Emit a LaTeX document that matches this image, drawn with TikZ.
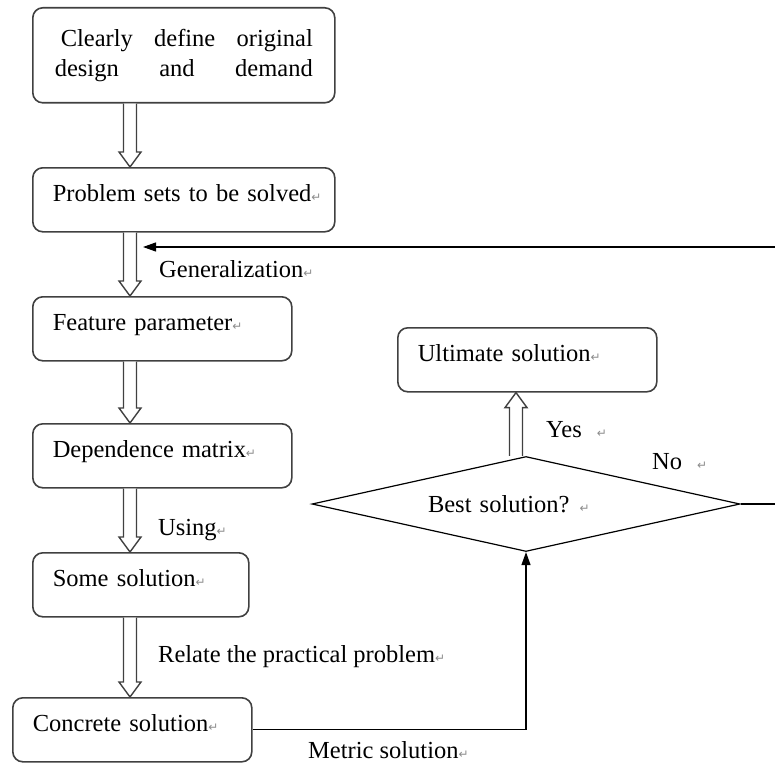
\documentclass[tikz,border=0pt]{standalone}
\usepackage{fontspec}
\setmainfont{Liberation Serif}
\newfontfamily\symfont{DejaVu Sans}
\usepackage{tikz}
\usetikzlibrary{arrows.meta, positioning, shapes.geometric, calc}
\usepackage{xcolor}

% paragraph mark as printed in the figure
\newcommand{\retmark}{{\symfont\fontsize{12}{12}\selectfont\color{black!45}↵}}
% hollow block arrows between two points (start, tip)
\newcommand{\hollowdown}[2]{%
  \path[hollow] let \p1=(#1), \p2=(#2) in
    (\x1-6.5pt,\y1) -- (\x1-6.5pt,\y2+15pt) -- (\x1-11pt,\y2+15pt) -- (\x1,\y2)
    -- (\x1+11pt,\y2+15pt) -- (\x1+6.5pt,\y2+15pt) -- (\x1+6.5pt,\y1);}
\newcommand{\hollowup}[2]{%
  \path[hollow] let \p1=(#1), \p2=(#2) in
    (\x1-6.5pt,\y1) -- (\x1-6.5pt,\y2-15pt) -- (\x1-11pt,\y2-15pt) -- (\x1,\y2)
    -- (\x1+11pt,\y2-15pt) -- (\x1+6.5pt,\y2-15pt) -- (\x1+6.5pt,\y1);}

\begin{document}
\begin{tikzpicture}[x=1pt, y=-1pt, font=\fontsize{24.5}{30}\selectfont]
    % Define styles
    \tikzstyle{procbox}=[draw=black!75, line width=1.6pt, rounded corners=10pt, anchor=north west, align=left, inner xsep=20pt, inner ysep=0pt, text height=34pt, text depth=30pt]
    \tikzstyle{hollow}=[draw=black!75, line width=1.4pt, fill=white]
    \tikzstyle{flow}=[draw=black, line width=1.2pt, -{Triangle[length=13pt, width=9pt]}]
    \tikzstyle{note}=[anchor=base west, inner sep=0pt]

    \useasboundingbox (0,0) rectangle (775,762);
    \clip (0,0) rectangle (775,762);

    % Left column of steps
    \node[procbox, text height=, text depth=, inner xsep=22pt, minimum height=95pt, text width=258pt, align=justify] (define) at (32,7) {\hspace*{6pt}Clearly\hfill define\hfill original\\design\hfill and\hfill demand};
    \node[procbox, text width=262pt] (problem) at (32,167) {\mbox{Problem sets to be solved\retmark}};
    \node[procbox, text width=219pt] (feature) at (32,296) {Feature parameter\retmark};
    \node[procbox, text width=219pt] (dependence) at (32,423) {Dependence matrix\retmark};
    \node[procbox, text width=176pt] (some) at (32,552) {Some solution\retmark};
    \node[procbox, text width=199pt] (concrete) at (12,697) {Concrete solution\retmark};

    % Decision and result
    \node[draw, diamond, line width=1.2pt, aspect=4.5, minimum width=428pt, minimum height=95pt, inner sep=0pt, text width=196pt, align=left] (best) at (526,504) {Best solution?\hspace{10pt}\retmark};
    \node[procbox, text width=219pt] (ultimate) at (397,327) {Ultimate solution\retmark};

    % Hollow arrows down the column
    \coordinate (spine) at (130,0);
    \foreach \a/\b in {define/problem, problem/feature, feature/dependence, dependence/some, some/concrete} {
        \hollowdown{spine |- \a.south}{spine |- \b.north};
    }
    \coordinate (yesx) at (516,0);
    \hollowup{yesx |- best.north}{yesx |- ultimate.south};

    % Connectors
    \coordinate (fbtip) at (143,247);
    \coordinate (rim) at (776,0);
    \draw[flow] (best.east) -- (best.east -| rim) |- (fbtip);
    \draw[flow] (concrete.east) -| (best.south);

    % Labels
    \node[note] (general) at (159,277) {Generalization\retmark};
    \node[note] (using) at (158,535) {Using\retmark};
    \node[note] (relate) at (158,662) {Relate the practical problem\retmark};
    \node[note] (metric) at (308,758) {Metric solution\retmark};
    \node[note] (yes) at (546,437) {Yes\hspace{15pt}\retmark};
    \node[note] (no) at (652,469) {No\hspace{15pt}\retmark};
\end{tikzpicture}
\end{document}
